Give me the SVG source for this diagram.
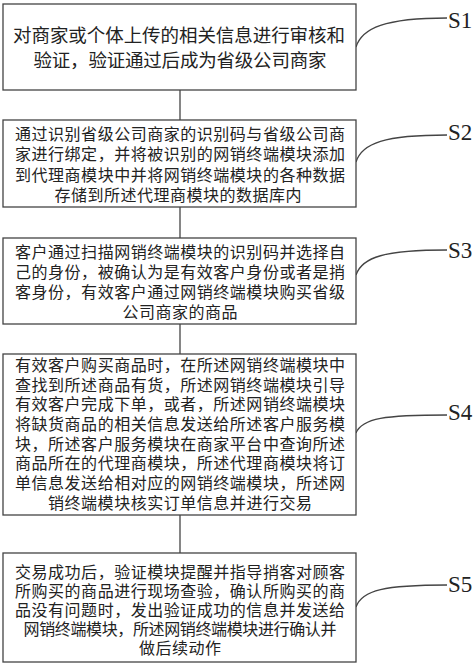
<svg xmlns="http://www.w3.org/2000/svg" width="474" height="663" viewBox="0 0 474 663">
<style>
.box{fill:#fff;stroke:#444;stroke-width:1.3}
.t{font-family:"Noto Sans CJK SC","Noto Sans CJK JP",sans-serif;font-size:16px;fill:#222;text-anchor:middle}
.t1{font-size:18.5px}
.lbl{font-family:"Liberation Serif",serif;font-size:23px;fill:#222}
.con{fill:none;stroke:#444;stroke-width:1.3}
</style>
<rect width="474" height="663" fill="#fff"/>
<g id="connectors">
<line class="con" x1="180" y1="90" x2="180" y2="120"/>
<line class="con" x1="180" y1="207" x2="180" y2="238"/>
<line class="con" x1="180" y1="324" x2="180" y2="354"/>
<line class="con" x1="180" y1="515" x2="180" y2="553"/>
<path class="con" d="M356,47 C362,28 385,18 447,18"/>
<path class="con" d="M356,162 C362,143 385,135 447,135"/>
<path class="con" d="M356,275 C362,257 385,250 447,250"/>
<path class="con" d="M356,433 C362,418 385,415 447,415"/>
<path class="con" d="M356,607 C362,590 385,585 447,585"/>
</g>
<g id="S1">
<rect class="box" x="3" y="4" width="353" height="86"/>
<text class="t t1"><tspan x="179" y="42" textLength="332" lengthAdjust="spacing">对商家或个体上传的相关信息进行审核和</tspan><tspan x="180" y="67" textLength="293" lengthAdjust="spacing">验证，验证通过后成为省级公司商家</tspan></text>
<text class="lbl" x="448" y="28">S1</text>
</g>
<g id="S2">
<rect class="box" x="3" y="120" width="353" height="87"/>
<text class="t"><tspan x="180" y="140" textLength="330" lengthAdjust="spacing">通过识别省级公司商家的识别码与省级公司商</tspan><tspan x="180" y="160" textLength="330" lengthAdjust="spacing">家进行绑定，并将被识别的网销终端模块添加</tspan><tspan x="180" y="181" textLength="330" lengthAdjust="spacing">到代理商模块中并将网销终端模块的各种数据</tspan><tspan x="178" y="201" textLength="247" lengthAdjust="spacing">存储到所述代理商模块的数据库内</tspan></text>
<text class="lbl" x="448" y="140">S2</text>
</g>
<g id="S3">
<rect class="box" x="3" y="238" width="353" height="86"/>
<text class="t"><tspan x="180" y="258" textLength="330" lengthAdjust="spacing">客户通过扫描网销终端模块的识别码并选择自</tspan><tspan x="180" y="278" textLength="330" lengthAdjust="spacing">己的身份，被确认为是有效客户身份或者是捎</tspan><tspan x="180" y="298" textLength="330" lengthAdjust="spacing">客身份，有效客户通过网销终端模块购买省级</tspan><tspan x="180" y="318" textLength="115" lengthAdjust="spacing">公司商家的商品</tspan></text>
<text class="lbl" x="448" y="258">S3</text>
</g>
<g id="S4">
<rect class="box" x="3" y="354" width="353" height="161"/>
<text class="t"><tspan x="180" y="371" textLength="330" lengthAdjust="spacing">有效客户购买商品时，在所述网销终端模块中</tspan><tspan x="180" y="391" textLength="330" lengthAdjust="spacing">查找到所述商品有货，所述网销终端模块引导</tspan><tspan x="180" y="410" textLength="330" lengthAdjust="spacing">有效客户完成下单，或者，所述网销终端模块</tspan><tspan x="180" y="430" textLength="330" lengthAdjust="spacing">将缺货商品的相关信息发送给所述客户服务模</tspan><tspan x="180" y="450" textLength="330" lengthAdjust="spacing">块，所述客户服务模块在商家平台中查询所述</tspan><tspan x="180" y="469" textLength="330" lengthAdjust="spacing">商品所在的代理商模块，所述代理商模块将订</tspan><tspan x="180" y="489" textLength="330" lengthAdjust="spacing">单信息发送给相对应的网销终端模块，所述网</tspan><tspan x="180" y="509" textLength="264" lengthAdjust="spacing">销终端模块核实订单信息并进行交易</tspan></text>
<text class="lbl" x="448" y="420">S4</text>
</g>
<g id="S5">
<rect class="box" x="3" y="553" width="353" height="109"/>
<text class="t"><tspan x="180" y="578" textLength="330" lengthAdjust="spacing">交易成功后，验证模块提醒并指导捎客对顾客</tspan><tspan x="180" y="597" textLength="330" lengthAdjust="spacing">所购买的商品进行现场查验，确认所购买的商</tspan><tspan x="180" y="616" textLength="330" lengthAdjust="spacing">品没有问题时，发出验证成功的信息并发送给</tspan><tspan x="180" y="635" textLength="313" lengthAdjust="spacing">网销终端模块，所述网销终端模块进行确认并</tspan><tspan x="180" y="654" textLength="82" lengthAdjust="spacing">做后续动作</tspan></text>
<text class="lbl" x="448" y="592">S5</text>
</g>
</svg>
